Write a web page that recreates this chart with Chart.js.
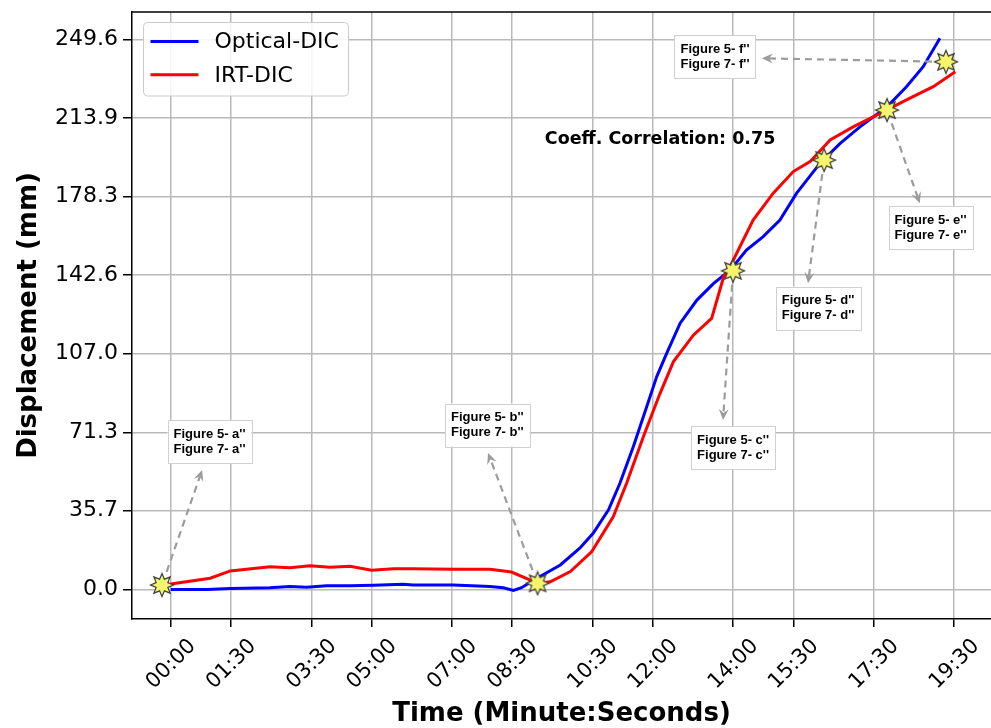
<!DOCTYPE html>
<html>
<head>
<meta charset="utf-8">
<title>Optical-DIC vs IRT-DIC displacement</title>
<script src="https://cdn.jsdelivr.net/npm/chart.js@4.4.1/dist/chart.umd.min.js"></script>
<style>
  html, body { margin: 0; padding: 0; background: #fff; overflow: hidden; }
  #wrap { width: 991px; height: 728px; }
</style>
</head>
<body>
<div id="wrap"><canvas id="chart" width="991" height="728"></canvas></div>
<script>
// ────────────────────────────────────────────
// Data (time in seconds, displacement in mm)
// ────────────────────────────────────────────
const xTickLabels = ['00:00', '01:30', '03:30', '05:00', '07:00', '08:30',
                     '10:30', '12:00', '14:00', '15:30', '17:30', '19:30'];
const yTickValues = [0.0, 35.7, 71.3, 107.0, 142.6, 178.3, 213.9, 249.6];

const opticalTime = [0, 54, 89, 148, 178, 203, 233, 268, 303, 347, 362, 422, 477, 497, 512, 524,
                     547, 582, 611, 631, 654, 671, 691, 711, 726, 741, 761, 786, 811, 836,
                     860, 885, 910, 935, 970, 1000, 1030, 1070, 1099, 1124, 1149];
const opticalDisp = [0, 0, 0.4, 0.8, 1.4, 1.0, 1.7, 1.7, 1.9, 2.4, 2.0, 2.0, 1.3, 0.8, -0.4, 0.8,
                     5.1, 11.1, 18.7, 25.5, 36.1, 48.2, 64.8, 82.9, 96.6, 107.2, 120.8, 131.3, 138.9, 145.0,
                     154.0, 160.1, 167.6, 179.8, 193.4, 202.4, 210.0, 219.0, 228.1, 237.2, 250.1];

const irtTime = [0, 59, 89, 148, 178, 208, 238, 268, 300, 333, 362, 422, 477, 509, 539, 552,
                 567, 597, 629, 661, 681, 706, 731, 751, 781, 808, 826, 838,
                 870, 900, 930, 955, 985, 1020, 1065, 1099, 1139, 1172];
const irtDisp = [2.5, 5.1, 8.4, 10.3, 9.9, 10.8, 10.1, 10.5, 8.7, 9.4, 9.4, 9.2, 9.2, 7.9, 4.0, 2.8,
                 3.5, 8.1, 17.2, 33.0, 48.2, 69.3, 89.0, 103.4, 115.5, 123.0, 141.9, 148.0,
                 167.6, 179.8, 189.6, 194.1, 203.9, 210.0, 216.8, 222.1, 228.1, 234.9];

// highlighted frames
const starTime = [-13, 548, 840, 976, 1070, 1158];
const starDisp = [2.0, 2.8, 144.6, 194.8, 217.5, 239.4];

// callout boxes: letter, box centre, arrow head (data coords)
const noteLetters = ['a', 'b', 'c', 'd', 'e', 'f'];
const noteBoxTime = [58, 473, 840, 967, 1135, 813];
const noteBoxDisp = [67.1, 74.6, 64.4, 127.7, 164.0, 241.6];
const noteHeadTime = [47, 474, 825, 952, 1119, 883];
const noteHeadDisp = [54.2, 61.9, 76.9, 138.9, 175.2, 241.0];

const corrText = 'Coeff. Correlation: 0.75';
const corrTime = 731;
const corrDisp = 204;

// ────────────────────────────────────────────
// Helpers
// ────────────────────────────────────────────
const toSeconds = s => { const [m, sec] = s.split(':'); return (+m) * 60 + (+sec); };
const xTickSeconds = xTickLabels.map(toSeconds);
const zip = (xs, ys) => xs.map((x, i) => ({ x: x, y: ys[i] }));

function noPadding(s) {
    s.paddingTop = 0;
    s.paddingBottom = 0;
    s.paddingLeft = 0;
    s.paddingRight = 0;
}

function makeStar(size) {
    const c = document.createElement('canvas');
    c.width = c.height = size;
    const g = c.getContext('2d');
    const cx = size / 2, R = size / 2 - 1.5, r = R * 0.55, n = 8;
    g.beginPath();
    for (let i = 0; i < n * 2; i++) {
        const a = -Math.PI / 2 + i * Math.PI / n;
        const rad = i % 2 ? r : R;
        g.lineTo(cx + rad * Math.cos(a), cx + rad * Math.sin(a));
    }
    g.closePath();
    g.fillStyle = '#f6f66c';
    g.fill();
    g.lineWidth = 1.2;
    g.strokeStyle = '#3a3a3a';
    g.stroke();
    return c;
}

function drawArrow(c, x1, y1, x2, y2) {
    const ang = Math.atan2(y2 - y1, x2 - x1);
    const cs = Math.cos(ang), sn = Math.sin(ang);
    const sx = x1 + cs * 14, sy = y1 + sn * 14;
    c.save();
    c.strokeStyle = '#9c9c9c';
    c.fillStyle = '#9c9c9c';
    c.lineWidth = 2.2;
    c.setLineDash([7, 5]);
    c.beginPath();
    c.moveTo(sx, sy);
    c.lineTo(x2 - cs * 7, y2 - sn * 7);
    c.stroke();
    c.setLineDash([]);
    c.beginPath();
    c.moveTo(x2, y2);
    c.lineTo(x2 - 11 * cs + 5 * sn, y2 - 11 * sn - 5 * cs);
    c.lineTo(x2 - 7 * cs, y2 - 7 * sn);
    c.lineTo(x2 - 11 * cs - 5 * sn, y2 - 11 * sn + 5 * cs);
    c.closePath();
    c.fill();
    c.restore();
}

// ────────────────────────────────────────────
// Overlay: frame top, callouts, legend, correlation text
// ────────────────────────────────────────────
const overlay = {
    id: 'overlay',
    afterDraw(chart) {
        const { ctx: c, chartArea: area, scales: { x, y } } = chart;
        c.save();

        // top spine
        c.strokeStyle = '#000';
        c.lineWidth = 1.5;
        c.beginPath();
        c.moveTo(area.left, area.top);
        c.lineTo(area.right + 2, area.top);
        c.stroke();

        // callouts
        noteLetters.forEach((l, i) => {
            drawArrow(c, x.getPixelForValue(starTime[i]), y.getPixelForValue(starDisp[i]),
                x.getPixelForValue(noteHeadTime[i]), y.getPixelForValue(noteHeadDisp[i]));
            const lines = [`Figure 5- ${l}''`, `Figure 7- ${l}''`];
            c.font = 'bold 13px "Liberation Sans", Arial, sans-serif';
            const w = Math.max(...lines.map(t => c.measureText(t).width)) + 12;
            const h = 43;
            const cx = x.getPixelForValue(noteBoxTime[i]);
            const cy = y.getPixelForValue(noteBoxDisp[i]);
            c.fillStyle = '#fff';
            c.fillRect(cx - w / 2, cy - h / 2, w, h);
            c.strokeStyle = '#d0d0d0';
            c.lineWidth = 1;
            c.strokeRect(Math.round(cx - w / 2) + 0.5, Math.round(cy - h / 2) + 0.5, Math.round(w), h);
            c.fillStyle = '#000';
            c.textAlign = 'center';
            c.textBaseline = 'middle';
            c.fillText(lines[0], cx, cy - 7.5);
            c.fillText(lines[1], cx, cy + 7.5);
        });

        // correlation label
        c.font = 'bold 17.5px "DejaVu Sans"';
        c.fillStyle = '#000';
        c.textAlign = 'center';
        c.textBaseline = 'middle';
        c.fillText(corrText, x.getPixelForValue(corrTime), y.getPixelForValue(corrDisp));

        // legend (matplotlib style, upper left)
        const items = chart.data.datasets.filter(d => !d.label.startsWith('_'));
        const lx = area.left + 11.5, ly = area.top + 10.5;
        c.beginPath();
        c.roundRect(lx, ly, 205, 73.5, 4);
        c.fillStyle = 'rgba(255,255,255,0.85)';
        c.fill();
        c.strokeStyle = '#cccccc';
        c.lineWidth = 1;
        c.stroke();
        c.font = '22px "DejaVu Sans"';
        c.textAlign = 'left';
        items.forEach((d, i) => {
            const ry = ly + 19 + i * 33.3;
            c.strokeStyle = d.borderColor;
            c.lineWidth = 3;
            c.beginPath();
            c.moveTo(lx + 7, ry);
            c.lineTo(lx + 55, ry);
            c.stroke();
            c.fillStyle = '#000';
            c.fillText(d.label, lx + 71, ry + 1);
        });

        c.restore();
    },
};

// ────────────────────────────────────────────
// Chart
// ────────────────────────────────────────────
Chart.defaults.font.family = '"DejaVu Sans", sans-serif';
Chart.defaults.color = '#000';

const starImg = makeStar(26);

new Chart(document.getElementById('chart'), {
    type: 'line',
    data: {
        datasets: [
            {
                label: '_frames',
                data: zip(starTime, starDisp),
                showLine: false,
                pointStyle: starImg,
                pointRadius: 13,
                order: 0,
            },
            {
                label: 'Optical-DIC',
                data: zip(opticalTime, opticalDisp),
                borderColor: '#0000ff',
                borderWidth: 3,
                pointRadius: 0,
                tension: 0,
                order: 2,
            },
            {
                label: 'IRT-DIC',
                data: zip(irtTime, irtDisp),
                borderColor: '#ff0000',
                borderWidth: 3,
                pointRadius: 0,
                tension: 0,
                order: 1,
            },
        ],
    },
    options: {
        responsive: false,
        animation: false,
        layout: { autoPadding: false, padding: { top: 12, left: 0, right: 0, bottom: 0 } },
        plugins: { legend: { display: false }, tooltip: { enabled: false } },
        scales: {
            x: {
                type: 'linear',
                min: -57.8,
                max: 1225.3,
                afterBuildTicks: s => { s.ticks = xTickSeconds.map(v => ({ value: v })); },
                afterFit: s => { s.height = 109; noPadding(s); },
                ticks: {
                    autoSkip: false,
                    minRotation: 45,
                    maxRotation: 45,
                    labelOffset: 22,
                    padding: 7,
                    color: '#000',
                    font: { size: 21 },
                    callback: (v, i) => xTickLabels[i],
                },
                grid: { color: '#b9b9b9', lineWidth: 1.5, tickLength: 8, tickColor: '#000', tickWidth: 1.5 },
                border: { color: '#000', width: 1.5 },
                title: {
                    display: true,
                    text: 'Time (Minute:Seconds)',
                    color: '#000',
                    font: { size: 26, weight: 'bold' },
                    padding: { top: 0, bottom: -2 },
                },
            },
            y: {
                type: 'linear',
                min: -13.4,
                max: 262,
                afterBuildTicks: s => { s.ticks = yTickValues.map(v => ({ value: v })); },
                afterFit: s => { s.width = 132; noPadding(s); },
                ticks: {
                    padding: 5,
                    color: '#000',
                    font: { size: 22 },
                    callback: v => v.toFixed(1),
                },
                grid: { color: '#b9b9b9', lineWidth: 1.5, tickLength: 9, tickColor: '#000', tickWidth: 1.5 },
                border: { color: '#000', width: 1.5 },
                title: {
                    display: true,
                    text: 'Displacement (mm)',
                    color: '#000',
                    font: { size: 26, weight: 'bold' },
                    padding: { top: 14, bottom: 0 },
                },
            },
        },
    },
    plugins: [overlay],
});
</script>
</body>
</html>
